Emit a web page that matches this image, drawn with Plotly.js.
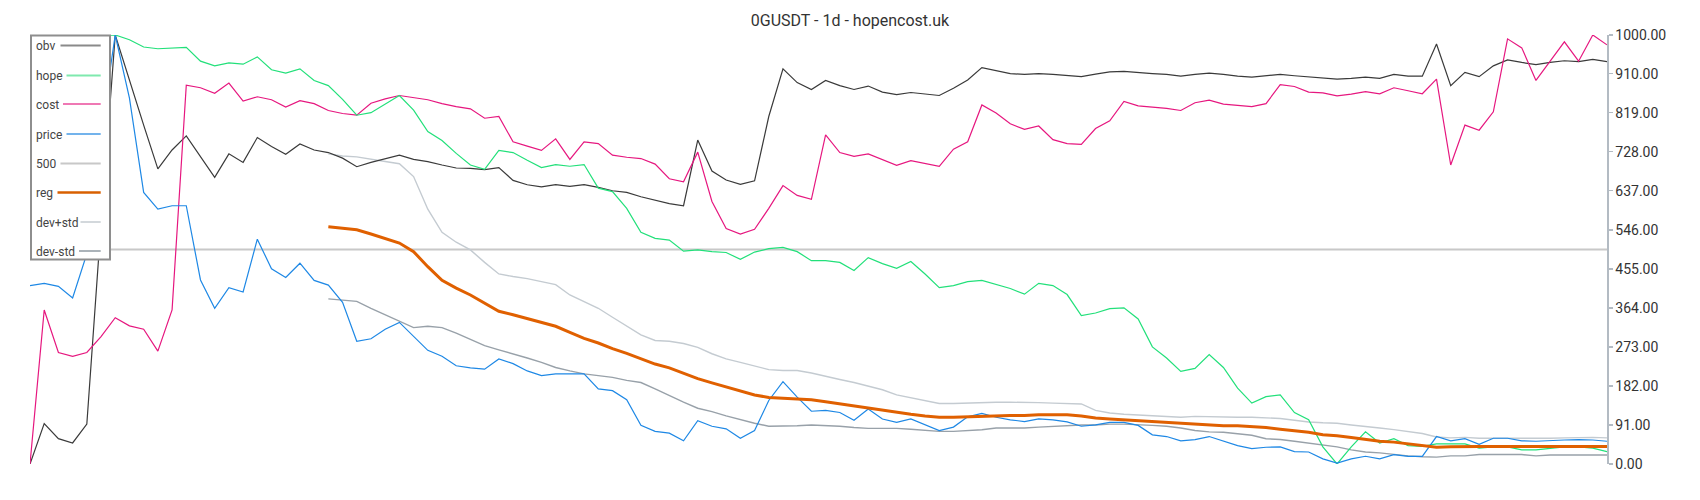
<!DOCTYPE html>
<html>
<head>
<meta charset="utf-8">
<script src="https://cdn.plot.ly/plotly-3.0.1.min.js"></script>
<style>
html,body{margin:0;padding:0;background:#fff;}
#chart{width:1700px;height:500px;}
</style>
</head>
<body>
<div id="chart"></div>
<script>
// ---------- data (normalised 0..1000, one value per day) ----------
const dayIndex = [0,1,2,3,4,5,6,7,8,9,10,11,12,13,14,15,16,17,18,19,20,21,22,23,24,25,26,27,28,29,30,31,32,33,34,35,36,37,38,39,40,41,42,43,44,45,46,47,48,49,50,51,52,53,54,55,56,57,58,59,60,61,62,63,64,65,66,67,68,69,70,71,72,73,74,75,76,77,78,79,80,81,82,83,84,85,86,87,88,89,90,91,92,93,94,95,96,97,98,99,100,101,102,103,104,105,106,107,108,109,110,111];

const obv = [0,94,59,49,93,560,1000,893,790,688,732,765,717,668,723,703,761,740,722,746,732,726,713,693,703,711,720,710,705,697,690,689,686,691,661,651,646,651,647,651,645,637,633,623,615,607,602,755,683,662,652,660,810,921,889,873,894,882,873,881,867,861,866,862,859,876,895,924,917,910,908,910,908,905,903,909,914,915,912,910,908,904,908,911,908,904,902,905,908,905,902,899,897,899,902,899,908,904,904,979,882,913,903,928,942,936,931,936,940,938,943,938];

const hope = [960,975,985,990,995,998,1000,989,972,968,970,971,939,928,935,932,949,919,911,921,894,882,850,813,819,839,859,825,775,754,724,697,687,731,726,708,691,698,694,698,643,635,596,540,526,522,496,499,495,493,477,494,502,505,495,474,474,470,451,481,467,456,472,443,411,416,425,428,419,409,396,421,416,395,346,352,362,364,338,273,247,216,223,255,225,177,142,157,161,120,103,40,0,40,75,49,59,43,41,47,47,47,37,40,40,33,33,37,40,40,37,29];

const cost = [0,359,260,251,260,297,341,322,314,263,359,883,877,864,888,846,856,849,832,847,840,824,817,813,841,851,859,854,849,840,833,828,806,810,751,741,731,758,710,751,747,720,715,712,699,665,658,727,612,549,536,547,596,649,626,617,767,726,717,723,710,696,707,701,694,734,751,837,818,793,780,788,756,747,745,782,800,845,835,832,829,824,842,848,839,836,833,840,884,880,867,865,858,862,868,863,877,870,863,897,697,790,778,821,991,970,894,939,984,939,1000,977];

const price = [416,421,414,387,490,776,1000,853,633,594,602,602,429,363,411,401,524,455,435,468,428,417,377,286,292,314,330,297,265,251,229,224,221,245,234,217,206,210,210,210,175,171,150,90,76,72,54,101,88,82,60,78,148,192,156,123,125,120,102,128,105,97,105,92,78,86,110,118,109,103,99,105,103,98,88,91,97,97,90,68,64,54,57,64,53,43,36,39,40,29,28,12,2,12,18,12,22,18,18,64,54,59,46,60,60,54,53,55,56,57,56,53];

const level500 = [500,500,500,500,500,500,500,500,500,500,500,500,500,500,500,500,500,500,500,500,500,500,500,500,500,500,500,500,500,500,500,500,500,500,500,500,500,500,500,500,500,500,500,500,500,500,500,500,500,500,500,500,500,500,500,500,500,500,500,500,500,500,500,500,500,500,500,500,500,500,500,500,500,500,500,500,500,500,500,500,500,500,500,500,500,500,500,500,500,500,500,500,500,500,500,500,500,500,500,500,500,500,500,500,500,500,500,500,500,500,500,500];

const reg = [null,null,null,null,null,null,null,null,null,null,null,null,null,null,null,null,null,null,null,null,null,553,550,546,536,525,515,495,460,428,410,394,375,356,348,339,330,321,307,293,282,269,258,245,233,224,212,199,189,180,171,161,155,153,152,150,145,140,136,131,126,120,116,112,109,109,110,112,113,113,113,115,115,115,112,107,105,103,101,99,97,95,93,91,89,89,87,85,81,78,74,68,66,62,58,53,51,47,43,39,40,41,41,41,41,41,41,41,41,41,41,41];

const devPlus = [null,null,null,null,null,null,null,null,null,null,null,null,null,null,null,null,null,null,null,null,null,723,718,716,710,705,700,670,594,540,517,499,470,443,437,432,425,418,394,379,363,342,321,301,288,286,281,272,257,245,237,229,220,218,218,212,204,197,190,181,173,161,154,147,141,141,142,144,144,144,144,143,142,141,140,125,119,116,114,113,111,109,111,110,109,109,109,108,106,102,98,96,95,91,88,84,80,76,71,63,61,62,60,60,60,59,59,60,61,62,62,61];

const devMinus = [null,null,null,null,null,null,null,null,null,null,null,null,null,null,null,null,null,null,null,null,null,385,382,379,363,348,332,318,321,318,305,291,276,266,257,247,237,225,217,210,206,202,195,190,175,159,144,130,122,112,103,95,88,88,89,91,90,88,85,83,83,83,81,79,76,76,78,80,84,84,84,86,88,90,91,91,93,93,92,90,88,84,78,75,74,70,67,59,57,53,49,44,40,33,28,26,22,19,17,16,19,19,22,22,22,22,19,21,21,21,21,21];

const seriesNames = ["obv","hope","cost","price","500","reg","dev+std","dev-std"];
const yTickVals = [0,91,182,273,364,455,546,637,728,819,910,1000];
const yTickText = ["0.00","91.00","182.00","273.00","364.00","455.00","546.00","637.00","728.00","819.00","910.00","1000.00"];
const chartTitle = "0GUSDT - 1d - hopencost.uk";

// ---------- styling ----------
const lineColors = {
  "obv": "#3a3a3a", "hope": "#22e07a", "cost": "#e6177f", "price": "#1e88e5",
  "500": "#c8c8c8", "reg": "#e06000", "dev+std": "#c4cbd1", "dev-std": "#98a1a9"
};
const legendColors = {
  "obv": "#8a8a8a", "hope": "#7fe9ae", "cost": "#ef78b4", "price": "#73b3ec",
  "500": "#c8c8c8", "reg": "#d86000", "dev+std": "#d3d8dc", "dev-std": "#abb3b9"
};

const W = 1700, H = 500;
const M = {l: 30, r: 93, t: 35, b: 36};
const plotW = W - M.l - M.r, plotH = H - M.t - M.b;
const px2x = px => (px - M.l) / plotW;
const py2y = py => (H - M.b - py) / plotH;

function tr(name, y, width) {
  return {
    type: "scatter", mode: "lines", name: name, x: dayIndex, y: y,
    line: {color: lineColors[name], width: width},
    hoverinfo: "skip", showlegend: false
  };
}

const data = [
  tr("500", level500, 2),
  tr("dev+std", devPlus, 1.4),
  tr("dev-std", devMinus, 1.4),
  tr("obv", obv, 1.2),
  tr("cost", cost, 1.2),
  tr("hope", hope, 1.2),
  tr("price", price, 1.2),
  tr("reg", reg, 3)
];

// custom legend (text on the left, sample line on the right)
const legendRows = [46, 76, 104.5, 134.5, 164, 193, 222.5, 251.5];
const legendLineStart = [60.5, 66.5, 63, 66.5, 60.5, 57.5, 80.5, 79];
const shapes = [{
  type: "rect", xref: "paper", yref: "paper", layer: "above",
  x0: px2x(31), x1: px2x(110), y0: py2y(35.5), y1: py2y(259.5),
  line: {color: "#8e8e8e", width: 2}, fillcolor: "#ffffff"
}];
const annotations = [];
seriesNames.forEach((n, k) => {
  const yy = legendRows[k];
  shapes.push({
    type: "line", xref: "paper", yref: "paper", layer: "above",
    x0: px2x(legendLineStart[k]), x1: px2x(100.7), y0: py2y(yy - 0.5), y1: py2y(yy - 0.5),
    line: {color: legendColors[n], width: n === "reg" ? 2.5 : 2}
  });
  annotations.push({
    xref: "paper", yref: "paper", x: px2x(34), y: py2y(yy),
    xanchor: "left", yanchor: "middle", showarrow: false, text: n,
    font: {family: "Roboto", size: 12, color: "#444444"}
  });
});

const layout = {
  width: W, height: H,
  margin: M,
  paper_bgcolor: "#ffffff", plot_bgcolor: "#ffffff",
  showlegend: false,
  title: {
    text: chartTitle, x: 0.5, xanchor: "center", y: 1 - 20.5 / H, yanchor: "middle",
    font: {family: "Roboto", size: 16, color: "#333333"}
  },
  xaxis: {range: [0, 111], visible: false, fixedrange: true},
  yaxis: {
    side: "right", range: [0, 1000], tickmode: "array",
    tickvals: yTickVals, ticktext: yTickText,
    showline: true, linecolor: "#b3bbc3", linewidth: 1.5,
    ticks: "outside", ticklen: 4, tickcolor: "#b3bbc3", tickwidth: 1.5,
    showgrid: false, zeroline: false,
    tickfont: {family: "Roboto", size: 14, color: "#333333"}
  },
  shapes: shapes,
  annotations: annotations
};

Plotly.newPlot("chart", data, layout, {staticPlot: true, displayModeBar: false});
</script>
</body>
</html>
